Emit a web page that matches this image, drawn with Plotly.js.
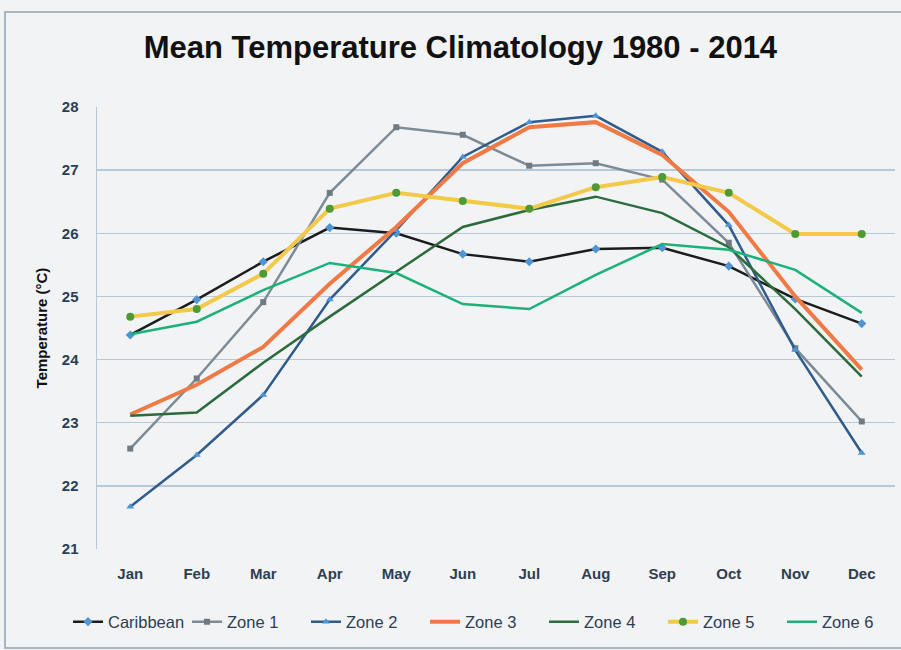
<!DOCTYPE html>
<html>
<head>
<meta charset="utf-8">
<script src="https://cdn.plot.ly/plotly-3.0.1.min.js"></script>
<style>
html,body{margin:0;padding:0;background:#f2f3f5;}
#chart{width:901px;height:650px;}
</style>
</head>
<body>
<div id="chart"></div>
<script>
var months = ["Jan","Feb","Mar","Apr","May","Jun","Jul","Aug","Sep","Oct","Nov","Dec"];
var caribbean = [24.39, 24.95, 25.55, 26.09, 26.00, 25.67, 25.55, 25.75, 25.77, 25.48, 24.96, 24.57];
var zone1 = [22.59, 23.70, 24.91, 26.64, 27.68, 27.56, 27.07, 27.11, 26.85, 25.85, 24.18, 23.02];
var zone2 = [21.67, 22.49, 23.44, 24.95, 26.05, 27.21, 27.76, 27.86, 27.29, 26.13, 24.15, 22.52];
var zone3 = [23.13, 23.60, 24.20, 25.20, 26.10, 27.11, 27.68, 27.76, 27.24, 26.34, 25.00, 23.84];
var zone4 = [23.11, 23.16, 23.95, 24.68, 25.39, 26.10, 26.37, 26.58, 26.32, 25.78, 24.80, 23.73];
var zone5 = [24.68, 24.80, 25.36, 26.39, 26.64, 26.51, 26.39, 26.73, 26.89, 26.64, 25.99, 25.99];
var zone6 = [24.40, 24.60, 25.10, 25.53, 25.37, 24.88, 24.80, 25.34, 25.83, 25.74, 25.42, 24.74];
var seriesNames = ["Caribbean","Zone 1","Zone 2","Zone 3","Zone 4","Zone 5","Zone 6"];
var yTicks = [21,22,23,24,25,26,27,28];

var font = "'Liberation Sans', Arial, sans-serif";
var tickColor = "#2e3e52";

function tr(name, y, lineColor, width, marker) {
  var t = {x: months, y: y, name: name, type: "scatter",
    mode: marker ? "lines+markers" : "lines",
    line: {color: lineColor, width: width}};
  if (marker) t.marker = marker;
  return t;
}

var data = [
  tr(seriesNames[0], caribbean, "#1c1c1c", 2.5, {symbol: "diamond", size: 7, color: "#4f94d4"}),
  tr(seriesNames[1], zone1, "#7d8b96", 2.5, {symbol: "square", size: 6, color: "#707a82"}),
  tr(seriesNames[2], zone2, "#2f5c8c", 2.5, {symbol: "triangle-up", size: 7, color: "#4f94d4"}),
  tr(seriesNames[3], zone3, "#ef7a45", 4, null),
  tr(seriesNames[4], zone4, "#2b6b3c", 2.5, null),
  tr(seriesNames[5], zone5, "#f3c94a", 4, {symbol: "circle", size: 8, color: "#4e9a35"}),
  tr(seriesNames[6], zone6, "#1bb27a", 2.5, null)
];

var layout = {
  width: 901, height: 650,
  paper_bgcolor: "#f2f3f5",
  plot_bgcolor: "#f2f3f5",
  margin: {l: 97, r: 6, t: 107, b: 101},
  title: {text: "<b>Mean Temperature Climatology 1980 - 2014</b>",
    font: {family: font, size: 31, color: "#111111"},
    x: 0.511, xanchor: "center", y: 0.927, yanchor: "middle"},
  xaxis: {type: "category", range: [-0.5, 11.5], showgrid: false, zeroline: false,
    showline: false, ticks: "",
    tickfont: {family: font, size: 15, color: tickColor, weight: "bold"},
    ticklabelstandoff: 14},
  yaxis: {range: [21, 28], tickvals: yTicks, ticktext: yTicks.map(String),
    showgrid: true, gridcolor: "#b7c8d8", gridwidth: 1.5,
    zeroline: false, showline: true, linecolor: "#b7c8d8", linewidth: 1.5,
    ticks: "", tickfont: {family: font, size: 15, color: tickColor, weight: "bold"},
    ticklabelstandoff: 14,
    title: {text: "<b>Temperature (°C)</b>", font: {family: font, size: 15, color: "#111111"}, standoff: 10}},
  showlegend: true,
  legend: {orientation: "h", x: -0.0105, xanchor: "left", y: -0.165, yanchor: "middle",
    font: {family: font, size: 16.5, color: tickColor}, bgcolor: "rgba(0,0,0,0)",
    entrywidth: 74, entrywidthmode: "pixels", tracegroupgap: 0},
  shapes: [
    {type: "rect", xref: "paper", yref: "paper", x0: -0.1153, x1: 1.02, y0: -0.224, y1: 1.215,
     line: {color: "#a8b6c2", width: 2}, fillcolor: "rgba(0,0,0,0)", layer: "below"}
  ]
};

Plotly.newPlot("chart", data, layout, {displayModeBar: false, staticPlot: true});
</script>
</body>
</html>
